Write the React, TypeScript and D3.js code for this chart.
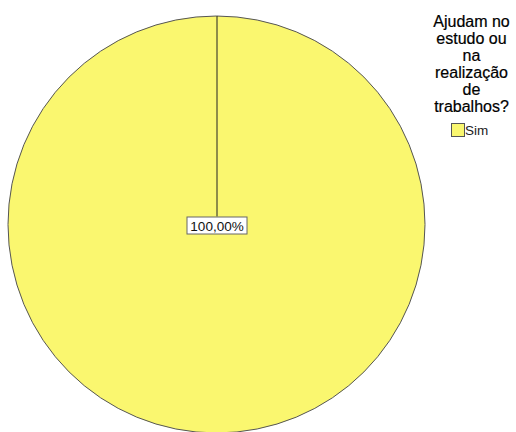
import React from "react";
import * as d3 from "d3";

const categories = ["Sim"];
const values = [100];
const legendTitle = ["Ajudam no", "estudo ou", "na", "realização", "de", "trabalhos?"];
const colors = ["#FAF76F"];

export default function App() {
  const W = 516, H = 432;
  const cx = 216.5, cy = 224.5, r = 208.5;
  const pie = d3.pie<number>().sort(null).startAngle(0).endAngle(2 * Math.PI)(values);
  const arc = d3.arc<d3.PieArcDatum<number>>().innerRadius(0).outerRadius(r);
  const total = d3.sum(values);
  const fmt = (v: number) => (v / total * 100).toFixed(2).replace(".", ",") + "%";
  return (
    <svg width={W} height={H} style={{ position: "absolute", left: 0, top: 0 }} fontFamily="Liberation Sans, Arial, sans-serif">
      <rect width={W} height={H} fill="#fff" />
      <g transform={`translate(${cx},${cy})`}>
        {pie.map((d, i) => (
          <path key={i} d={arc(d) || ""} fill={colors[i]} stroke="#555" strokeWidth={1} />
        ))}
        {pie.map((d, i) => {
          const [lx, ly] = [0, -8];
          const a = d.startAngle;
          const x0 = r * Math.sin(a), y0 = -r * Math.cos(a);
          return (
            <g key={"l" + i}>
              <line x1={x0 + 0.5} y1={y0} x2={lx + 0.5} y2={ly} stroke="#222" strokeWidth={1} />
              <rect x={lx - 29.5} y={ly + 0.5} width={60} height={17} fill="#fff" stroke="#666" strokeWidth={1} />
              <text x={lx + 0.5} y={ly + 14} textAnchor="middle" fontSize={13.5} fill="#111">{fmt(d.data)}</text>
            </g>
          );
        })}
      </g>
      <g>
        {legendTitle.map((t, i) => (
          <text key={i} x={471.5} y={27 + i * 17} textAnchor="middle" fontSize={16} fill="#000" stroke="#000" strokeWidth={0.2}>{t}</text>
        ))}
        {categories.map((c, i) => (
          <g key={c} transform={`translate(451,${123 + i * 18})`}>
            <rect x={0.5} y={0.5} width={13} height={13} fill={colors[i]} stroke="#555" />
            <text x={14} y={12} fontSize={13.5} fill="#222">{c}</text>
          </g>
        ))}
      </g>
    </svg>
  );
}
